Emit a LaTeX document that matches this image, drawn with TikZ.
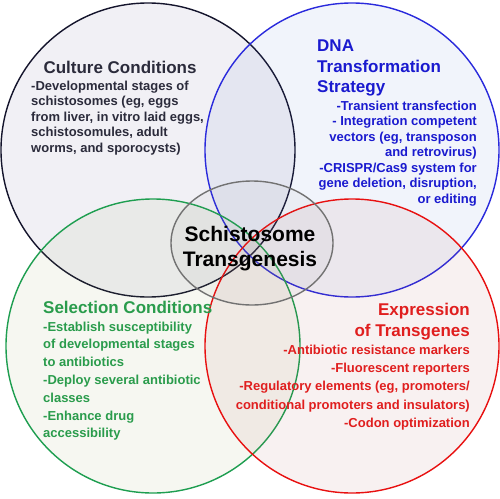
\documentclass[tikz,border=0pt]{standalone}
\usepackage{fontspec}
\setmainfont{Liberation Sans}
\usetikzlibrary{shapes.geometric}
\definecolor{cultLine}{HTML}{14142C}
\definecolor{dnaLine}{HTML}{2A2ADC}
\definecolor{selLine}{HTML}{1E9E50}
\definecolor{expLine}{HTML}{E81010}
\definecolor{cenLine}{HTML}{727272}
\definecolor{cultFill}{RGB}{85,75,135}
\definecolor{dnaFill}{RGB}{85,115,205}
\definecolor{selFill}{RGB}{145,165,85}
\definecolor{expFill}{RGB}{175,85,85}
\definecolor{cultText}{HTML}{2B2B3B}
\definecolor{dnaText}{HTML}{1A1ACF}
\definecolor{selText}{HTML}{2A9C4C}
\definecolor{expText}{HTML}{E01E1E}
\begin{document}
\begin{tikzpicture}[x=1pt,y=-1pt,
  venn/.style={circle, minimum size=294pt, inner sep=0pt, line width=1.4pt, fill opacity=0.08, draw opacity=1},
  ttl/.style={inner sep=0pt, font=\fontsize{17}{20.5}\selectfont\bfseries},
  bdy/.style={inner sep=0pt, font=\fontsize{13}{15.5}\selectfont\bfseries},
  bdyb/.style={inner sep=0pt, font=\fontsize{13}{17.8}\selectfont\bfseries}]
\useasboundingbox (0,0) rectangle (500,498);
\fill[white] (0,0) rectangle (500,498);
% circles
\node[venn, draw=cultLine, fill=cultFill] (cult) at (148,150) {};
\node[venn, draw=dnaLine, fill=dnaFill] (dna) at (352,150) {};
\node[venn, draw=selLine, fill=selFill] (sel) at (153,346) {};
\node[venn, draw=expLine, fill=expFill] (exp) at (352,346) {};
\node[ellipse, minimum width=162pt, minimum height=124pt, inner sep=0pt, line width=1.4pt, draw=cenLine, fill=gray, fill opacity=0.06, draw opacity=1] (cen) at (252,243) {};
% texts
\node[ttl, text=cultText, anchor=base] (cultT) at (120,73) {Culture Conditions};
\node[bdy, text=cultText, anchor=north west, align=left] (cultB) at (31,80.5) {-Developmental stages of\\schistosomes (eg, eggs\\from liver, in vitro laid eggs,\\schistosomules, adult\\worms, and sporocysts)};
\node[ttl, text=dnaText, anchor=north west, align=left] (dnaT) at (317,39.8) {DNA\\Transformation\\Strategy};
\node[bdy, text=dnaText, anchor=north east, align=right] (dnaB) at (477,100.5) {-Transient transfection\\- Integration competent\\vectors (eg, transposon\\and retrovirus)\\-CRISPR/Cas9 system for\\gene deletion, disruption,\\or editing};
\node[ttl, text=selText, anchor=base west] (selT) at (43,313) {Selection Conditions};
\node[bdyb, text=selText, anchor=north west, align=left] (selB) at (43,321.5) {-Establish susceptibility\\of developmental stages\\to antibiotics\\-Deploy several antibiotic\\classes\\-Enhance drug\\accessibility};
\node[ttl, text=expText, anchor=north east, align=right, font=\fontsize{17}{21}\selectfont\bfseries] (expT) at (470,302.8) {Expression\\of Transgenes};
\node[inner sep=0pt, font=\fontsize{13}{18.4}\selectfont\bfseries, text=expText, anchor=north east, align=right] (expB) at (470,344.5) {-Antibiotic resistance markers\\-Fluorescent reporters\\-Regulatory elements (eg, promoters/\\conditional promoters and insulators)\\-Codon optimization};
\node[inner sep=0pt, font=\fontsize{21}{25}\selectfont\bfseries, anchor=north, align=center] (cenT) at (250,226.5) {Schistosome\\Transgenesis};
\end{tikzpicture}
\end{document}
